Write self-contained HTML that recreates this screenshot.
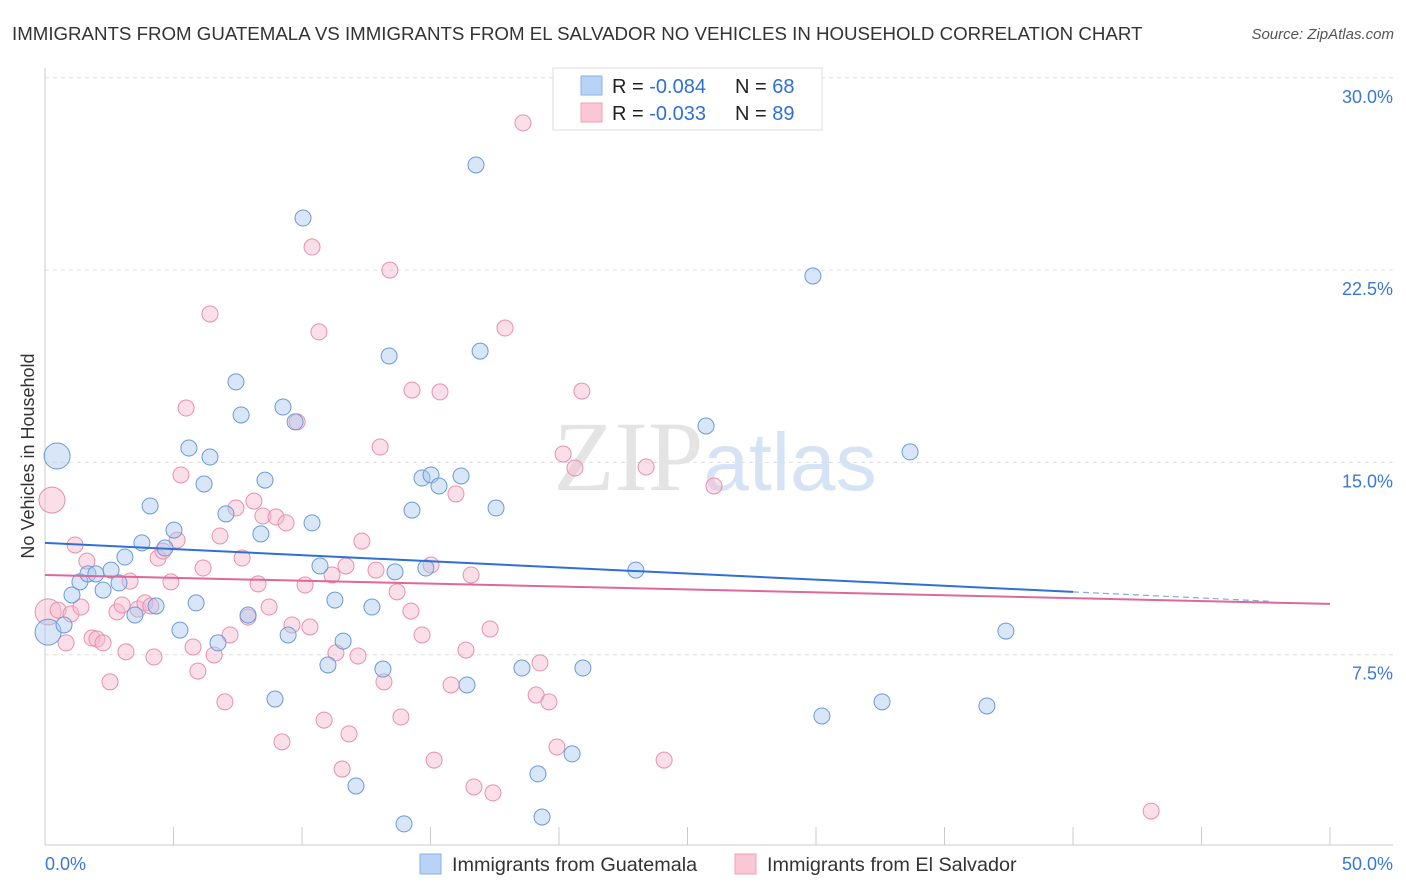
<!DOCTYPE html>
<html><head><meta charset="utf-8"><style>
body{margin:0;background:#fff;font-family:"Liberation Sans",sans-serif}
svg{display:block}
</style></head><body>
<svg id="c" width="1406" height="892" xmlns="http://www.w3.org/2000/svg">
<text x="12" y="40" font-size="18.7" fill="#333">IMMIGRANTS FROM GUATEMALA VS IMMIGRANTS FROM EL SALVADOR NO VEHICLES IN HOUSEHOLD CORRELATION CHART</text>
<text x="1394" y="39" font-size="15" fill="#555" font-style="italic" text-anchor="end">Source: ZipAtlas.com</text>
<text x="34" y="456" font-size="18" fill="#333" text-anchor="middle" transform="rotate(-90 34 456)">No Vehicles in Household</text>
<g id="grid"></g>
<g id="ticks"></g>
<text x="715" y="490" font-size="100" fill="#e4e4e4" text-anchor="middle" font-family="Liberation Serif">ZIP<tspan fill="#d6e3f4" font-family="Liberation Sans" font-size="82">atlas</tspan></text>
<g id="pts"></g>
<g id="lines"></g>
<g>
<rect x="553" y="68" width="269" height="62" fill="#fff" stroke="#ddd"/>
<rect x="581" y="76" width="21" height="19" fill="#b8d3f5" stroke="#8ab2e8"/>
<rect x="581" y="103" width="21" height="19" fill="#fbc6d5" stroke="#f0a0b8"/>
<text x="612" y="93" font-size="20" fill="#222">R = <tspan fill="#2f6fd6">-0.084</tspan></text>
<text x="735" y="93" font-size="20" fill="#222">N = <tspan fill="#2f6fd6">68</tspan></text>
<text x="612" y="120" font-size="20" fill="#222">R = <tspan fill="#2f6fd6">-0.033</tspan></text>
<text x="735" y="120" font-size="20" fill="#222">N = <tspan fill="#2f6fd6">89</tspan></text>
</g>
<g>
<rect x="420" y="854" width="21" height="20" fill="#b8d3f5" stroke="#8ab2e8"/>
<text x="452" y="871" font-size="19.8" fill="#333">Immigrants from Guatemala</text>
<rect x="735" y="854" width="21" height="20" fill="#fbc6d5" stroke="#f0a0b8"/>
<text x="767" y="871" font-size="19.8" fill="#333">Immigrants from El Salvador</text>
</g>
</svg>
<script>
const yTicks=[7.5,15,22.5,30];
const yTickLabels=["7.5%","15.0%","22.5%","30.0%"];
const xTicks=[0,5,10,15,20,25,30,35,40,45,50];
const xEndLabels=["0.0%","50.0%"];
const blueX=[0.47,0.12,0.74,1.05,1.36,1.67,1.98,2.26,2.57,2.88,3.11,3.5,3.77,4.09,4.32,4.67,5.02,5.25,5.6,5.88,6.19,6.42,6.73,7.04,7.43,7.63,7.9,8.4,8.56,8.95,9.26,9.46,9.73,10.04,10.39,10.7,11.01,11.28,11.6,12.1,12.72,13.15,13.39,13.62,13.97,14.28,14.67,14.82,15.02,15.33,16.19,16.42,16.77,16.93,17.55,18.56,19.18,19.34,20.51,20.93,22.99,25.72,29.88,30.23,32.57,33.66,36.65,37.39];
const blueY=[15.25,8.38,8.66,9.83,10.34,10.65,10.65,10.02,10.8,10.3,11.31,9.05,11.86,13.3,9.4,11.66,12.36,8.46,15.56,9.52,14.16,15.21,7.96,12.99,18.14,16.85,9.05,12.21,14.31,5.77,17.16,8.27,16.58,24.53,12.64,10.96,7.1,9.63,8.03,2.38,9.36,6.94,19.15,10.73,0.9,13.14,14.39,10.88,14.51,14.08,14.47,6.32,26.6,19.34,13.22,6.98,2.85,1.17,3.63,6.98,10.8,16.42,22.27,5.11,5.66,15.41,5.5,8.42];
const pinkX=[0.27,0.12,0.51,0.82,1.01,1.17,1.4,1.63,1.83,2.02,2.26,2.53,2.8,3.0,3.15,3.31,3.62,3.89,4.12,4.24,4.4,4.59,4.9,5.14,5.29,5.49,5.76,5.95,6.15,6.42,6.58,6.81,7.0,7.2,7.43,7.67,7.9,8.13,8.29,8.48,8.72,8.99,9.22,9.38,9.61,9.81,10.12,10.31,10.39,10.66,10.86,11.17,11.32,11.56,11.71,11.83,12.18,12.33,12.88,13.04,13.19,13.42,13.7,13.85,14.24,14.28,14.67,15.02,15.14,15.37,15.8,15.99,16.38,16.58,16.69,17.32,17.43,17.9,18.6,19.11,19.26,19.61,19.92,20.16,20.62,20.89,23.39,24.09,26.03,43.04];
const pinkY=[13.53,9.17,9.24,7.96,9.09,11.78,9.36,11.15,8.15,8.11,7.96,6.44,9.17,9.44,7.61,10.37,9.28,9.52,9.4,7.41,11.27,11.54,10.34,11.97,14.51,17.12,7.8,6.86,10.88,20.79,7.49,12.13,5.66,8.27,13.22,11.27,8.97,13.49,10.26,12.91,9.36,12.87,4.1,12.64,8.66,16.58,10.22,8.58,23.4,20.09,4.95,10.61,7.57,3.04,10.96,4.41,7.45,11.93,10.8,15.6,6.44,22.5,9.95,5.07,9.2,17.82,8.27,11.0,3.39,17.75,6.32,13.77,7.68,10.61,2.34,8.5,2.11,20.24,28.24,5.93,7.18,5.66,3.9,15.33,14.78,17.78,14.82,3.39,14.08,1.4];
const blueTrend=[11.86,9.95];
const blueTrendX=[0,40,47.7];
const pinkTrend=[10.61,9.48];
const pinkTrendX=[0,50];

const NS="http://www.w3.org/2000/svg";
const X=v=>45+v*25.7, Y=v=>847-v*25.64;
function mk(t,a,p){const e=document.createElementNS(NS,t);for(const k in a)e.setAttribute(k,a[k]);p.appendChild(e);return e;}
const grid=document.getElementById('grid'),ticks=document.getElementById('ticks'),pts=document.getElementById('pts'),lines=document.getElementById('lines');
yTicks.forEach((t,i)=>{
 const l=mk('line',{x1:45,x2:1393,y1:Y(t),y2:Y(t),stroke:'#ddd','stroke-dasharray':'4,4'},grid);
 
 
 const tx=mk('text',{x:1393,y:Y(t)+25,'font-size':18,fill:'#3a78d8','text-anchor':'end'},grid);
 tx.textContent=yTickLabels[i];
 
 
});
const ax=mk('line',{x1:45,x2:1393,y1:845,y2:845,stroke:'#ccc'},ticks);


const ay=mk('line',{x1:45,x2:45,y1:68,y2:845,stroke:'#ccc'},ticks);


xTicks.forEach(t=>{
 const l=mk('line',{x1:X(t),x2:X(t),y1:827,y2:845,stroke:'#ccc'},ticks);
 
 
});
[[0,'start'],[50,'end']].forEach(([v,a],i)=>{
 const tx=mk('text',{x:i?1393:45,y:870,'font-size':18,fill:'#3a78d8','text-anchor':a},ticks);
 tx.textContent=xEndLabels[i];
 
 
});
function dots(xs,ys,fill,stroke,name){
 xs.forEach((x,i)=>{
  const big=i<2;
  const c=mk('circle',{cx:X(x),cy:Y(ys[i]),r:big?13:8,fill:fill,'fill-opacity':0.45,stroke:stroke,'stroke-width':1},pts);
  
  
 });
}
dots(pinkX,pinkY,'#f7b8cb','#e890ab','point-el-salvador');
dots(blueX,blueY,'#a8c8f0','#6a9ad8','point-guatemala');
const bs=(blueTrend[1]-blueTrend[0])/blueTrendX[1];
const bl=mk('line',{x1:X(0),y1:Y(blueTrend[0]),x2:X(blueTrendX[1]),y2:Y(blueTrend[1]),stroke:'#2f6fd6','stroke-width':2},lines);


const bd=mk('line',{x1:X(blueTrendX[1]),y1:Y(blueTrend[1]),x2:X(blueTrendX[2]),y2:Y(blueTrend[0]+bs*blueTrendX[2]),stroke:'#8aa8d8','stroke-width':1.2,'stroke-dasharray':'6,4'},lines);


const pl=mk('line',{x1:X(pinkTrendX[0]),y1:Y(pinkTrend[0]),x2:X(pinkTrendX[1]),y2:Y(pinkTrend[1]),stroke:'#e0679a','stroke-width':2},lines);


</script>
</body></html>
